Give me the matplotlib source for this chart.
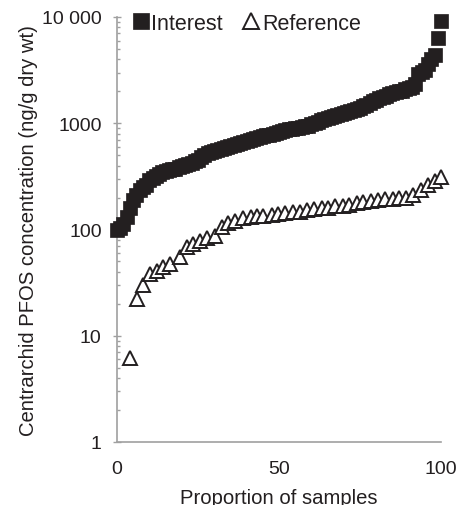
import numpy as np
import matplotlib
matplotlib.use("Agg")
import matplotlib.pyplot as plt
from matplotlib.ticker import LogLocator, NullFormatter

plt.rcParams['font.family'] = ['Liberation Sans', 'DejaVu Sans']

# Interest sites: PFOS concentration, sorted, read at 1 % steps of proportion
interest_values = [
    100, 103, 112, 130, 158, 188, 212, 235, 252, 265,
    290, 308, 320, 333, 345, 356, 362, 368, 375, 388,
    398, 405, 415, 425, 438, 455, 480, 505, 525, 540,
    552, 560, 572, 583, 595, 608, 620, 635, 650, 665,
    680, 692, 708, 722, 738, 752, 768, 782, 800, 815,
    830, 845, 860, 875, 888, 898, 908, 920, 932, 950,
    975, 1005, 1035, 1065, 1095, 1120, 1148, 1172, 1198, 1222,
    1248, 1272, 1298, 1325, 1355, 1400, 1450, 1500, 1550, 1605,
    1655, 1710, 1760, 1815, 1870, 1910, 1950, 1990, 2030, 2080,
    2130, 2200, 2350, 2900, 3050, 3200, 3600, 4000, 4400, 6300,
    9100,
]
interest_prop = np.linspace(0, 100, len(interest_values))

# Reference sites
reference_prop = [
    4.0, 6.2, 8.0, 10.2, 12.3, 14.3, 16.4, 19.4, 21.5, 23.6,
    25.6, 27.7, 30.2, 32.3, 34.4, 36.4, 39.0, 41.3, 43.3, 45.2,
    47.7, 49.8, 51.9, 54.2, 56.5, 58.5, 60.8, 63.2, 65.2, 67.3,
    69.7, 71.7, 74.0, 76.0, 78.3, 80.6, 82.7, 85.1, 87.0, 89.2,
    91.5, 93.7, 96.1, 98.1, 100.0,
]
reference_values = [
    6.2, 22, 30, 38, 41, 44, 47, 55, 68, 73,
    78, 84, 87, 105, 115, 121, 127, 130, 133, 135,
    137, 140, 143, 145, 147, 152, 155, 158, 161, 167,
    167, 170, 177, 182, 186, 189, 193, 193, 196, 200,
    211, 237, 262, 287, 309,
]

ytick_vals = [1, 10, 100, 1000, 10000]
ytick_labels = ["1", "10", "100", "1000", "10 000"]
xtick_vals = [0, 50, 100]
xtick_labels = ["0", "50", "100"]

fig = plt.figure(figsize=(4.61, 5.06), dpi=100)
ax = fig.add_axes([117/461, 63/506, 324/461, 425/506])

ax.plot(interest_prop, interest_values, linestyle='none', marker='s',
        markersize=10.5, markerfacecolor='#231f20', markeredgecolor='#231f20',
        markeredgewidth=0.5, clip_on=False, label='Interest', zorder=3)
ax.plot(reference_prop, reference_values, linestyle='none', marker='^',
        markersize=10.0, markerfacecolor='white', markeredgecolor='#231f20',
        markeredgewidth=1.4, clip_on=False, label='Reference', zorder=4)

ax.set_yscale('log')
ax.set_ylim(1, 10000)
ax.set_xlim(0, 100)
ax.set_yticks(ytick_vals)
ax.set_yticklabels(ytick_labels)
ax.yaxis.set_minor_locator(LogLocator(base=10, subs=np.arange(2, 10)))
ax.yaxis.set_minor_formatter(NullFormatter())
ax.set_xticks(xtick_vals)
ax.set_xticklabels(xtick_labels)

for s in ['top', 'right']:
    ax.spines[s].set_visible(False)
for s in ['left', 'bottom']:
    ax.spines[s].set_color('#a0a0a0')
    ax.spines[s].set_linewidth(1.2)

ax.tick_params(axis='y', which='major', direction='inout', length=6,
               width=1.0, color='#a0a0a0', labelsize=14, pad=8,
               labelcolor='#231f20')
ax.tick_params(axis='y', which='minor', direction='in', length=2.5,
               width=1.0, color='#a0a0a0')
ax.tick_params(axis='x', which='both', length=0, labelsize=14, pad=13,
               labelcolor='#231f20')

ax.set_ylabel('Centrarchid PFOS concentration (ng/g dry wt)', fontsize=14.6,
              color='#231f20', labelpad=3)
ax.set_xlabel('Proportion of samples', fontsize=14.6, color='#231f20',
              labelpad=8)

leg = ax.legend(loc='upper left', bbox_to_anchor=(0.0, 1.04), frameon=False,
                ncol=2, fontsize=15.5, handletextpad=0.0, columnspacing=0.8,
                handlelength=1.0, borderaxespad=0.2, markerscale=1.1)
for t in leg.get_texts():
    t.set_color('#231f20')

fig.savefig('out.png', dpi=100)
